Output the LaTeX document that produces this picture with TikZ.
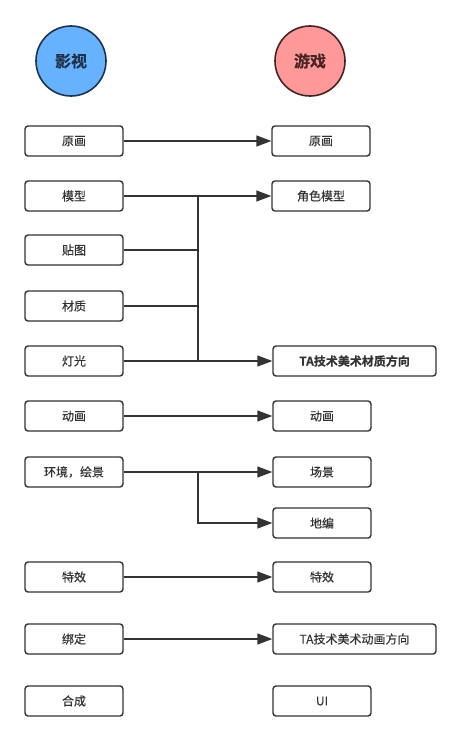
\documentclass[tikz,border=0pt]{standalone}
\usepackage{fontspec}
\setmainfont{Noto Sans CJK SC}[FakeBold=0.35, BoldFont={Noto Sans CJK SC Bold}]
\usetikzlibrary{arrows.meta}

\definecolor{lineDark}{RGB}{51,51,51}
\definecolor{filmFill}{RGB}{102,178,255}
\definecolor{filmEdge}{RGB}{30,50,75}
\definecolor{gameFill}{RGB}{255,153,153}
\definecolor{gameEdge}{RGB}{70,35,35}

\begin{document}
\begin{tikzpicture}[x=1pt, y=-1pt, >={Triangle[length=15pt,width=11pt]},
  item/.style={draw=lineDark, line width=1.4pt, rounded corners=3pt, fill=white,
    minimum width=98pt, minimum height=30pt, inner sep=0pt, text=lineDark,
    font=\fontsize{12}{14}\selectfont},
  wide/.style={item, minimum width=163pt},
  head/.style={circle, line width=1.6pt, minimum size=70pt,
    inner sep=0pt, font=\fontsize{16}{18}\selectfont\bfseries},
  link/.style={->, line width=1.4pt, color=lineDark}]
\useasboundingbox (0,0) rectangle (461,741);
% headers
\node[head, fill=filmFill, draw=filmEdge, text=filmEdge] (film) at (71,61) {影视};
\node[head, fill=gameFill, draw=gameEdge, text=gameEdge] (game) at (310,61) {游戏};
% film side
\node[item] (yuanhua) at (74,141) {原画};
\node[item] (moxing) at (74,196) {模型};
\node[item] (tietu) at (74,250) {贴图};
\node[item] (caizhi) at (74,306) {材质};
\node[item] (dengguang) at (74,361) {灯光};
\node[item] (donghua) at (74,416) {动画};
\node[item] (huanjing) at (74,472) {环境，绘景};
\node[item] (texiao) at (74,577) {特效};
\node[item] (bangding) at (74,639) {绑定};
\node[item] (hecheng) at (74,701) {合成};
% game side
\node[item] (gYuanhua) at (321,141) {原画};
\node[item] (gJuese) at (321,196) {角色模型};
\node[wide, font=\fontsize{12}{14}\selectfont\bfseries] (gTaCaizhi) at (354.5,361) {TA技术美术材质方向};
\node[item] (gDonghua) at (322,416) {动画};
\node[item] (gChangjing) at (322,472) {场景};
\node[item] (gDibian) at (322,523) {地编};
\node[item] (gTexiao) at (322,577) {特效};
\node[wide] (gTaDonghua) at (354.5,639) {TA技术美术动画方向};
\node[item] (gUi) at (322,701) {UI};
% connectors
\coordinate (jx) at (198,0);
\draw[link] (yuanhua) -- (gYuanhua);
\draw[link] (moxing) -- (gJuese);
\draw[link, -] (tietu.east) -- (tietu.east -| jx);
\draw[link, -] (caizhi.east) -- (caizhi.east -| jx);
\draw[link, -] (moxing.east -| jx) -- (dengguang.east -| jx);
\draw[link] (dengguang) -- (gTaCaizhi);
\draw[link] (donghua) -- (gDonghua);
\draw[link] (huanjing) -- (gChangjing);
\draw[link] (huanjing.east -| jx) |- (gDibian.west);
\draw[link] (texiao) -- (gTexiao);
\draw[link] (bangding) -- (gTaDonghua);
\end{tikzpicture}
\end{document}
